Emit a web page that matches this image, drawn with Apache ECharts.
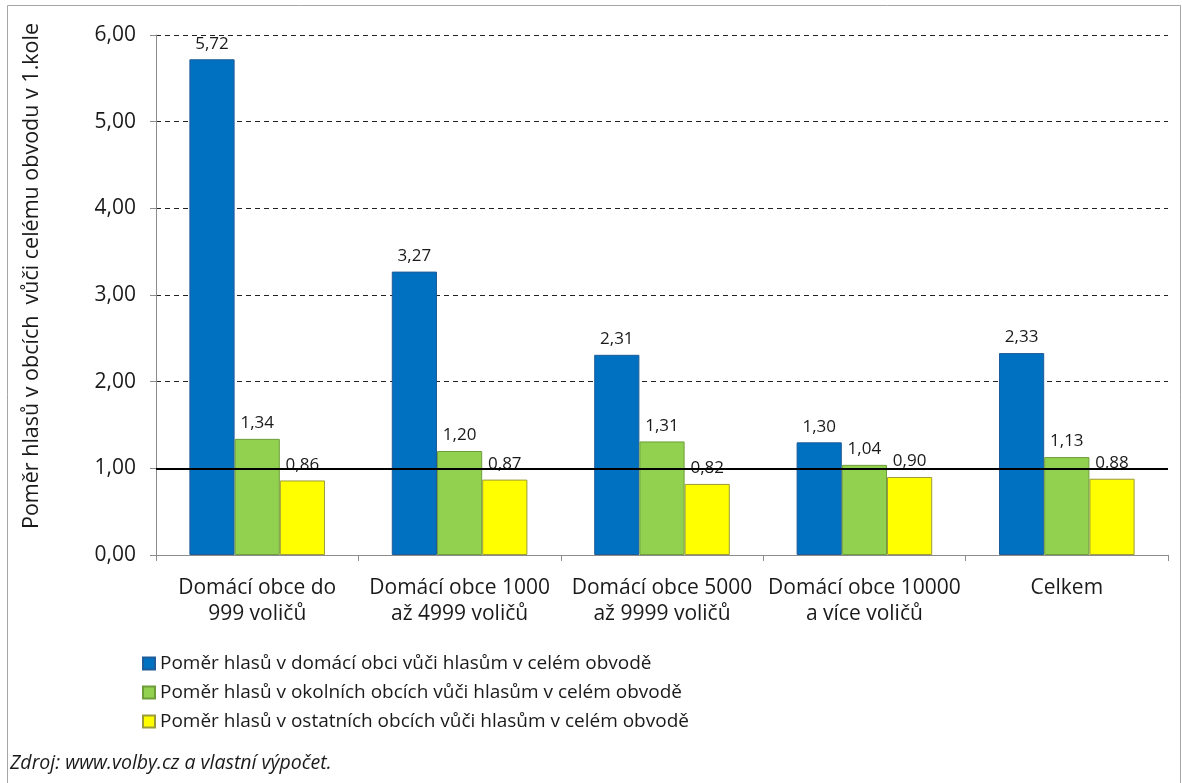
<!DOCTYPE html>
<html>
<head>
<meta charset="utf-8">
<script src="https://cdn.jsdelivr.net/npm/echarts@6/dist/echarts.min.js"></script>
<style>
  html, body { margin: 0; padding: 0; background: #fff; }
  #chart { width: 1182px; height: 783px; }
</style>
</head>
<body>
<div id="chart"></div>
<script>
const categories = [
  'Domácí obce do\n999 voličů',
  'Domácí obce 1000\naž 4999 voličů',
  'Domácí obce 5000\naž 9999 voličů',
  'Domácí obce 10000\na více voličů',
  'Celkem'
];
const seriesNames = [
  'Poměr hlasů v domácí obci vůči hlasům v celém obvodě',
  'Poměr hlasů v okolních obcích vůči hlasům v celém obvodě',
  'Poměr hlasů v ostatních obcích vůči hlasům v celém obvodě'
];
const domaci = [5.72, 3.27, 2.31, 1.30, 2.33];
const okolni = [1.34, 1.20, 1.31, 1.04, 1.13];
const ostatni = [0.86, 0.87, 0.82, 0.90, 0.88];
const referenceLine = 1;

const font = '"Open Sans", sans-serif';
const fmt = v => v.toFixed(2).replace('.', ',');

const chart = echarts.init(document.getElementById('chart'));

function bar(name, data, color, border) {
  return {
    name: name,
    type: 'bar',
    data: data,
    barGap: '0%',
    barCategoryGap: '33%',
    itemStyle: { color: color, borderColor: border, borderWidth: 1 },
    label: {
      show: true,
      position: 'top',
      distance: 7,
      formatter: p => fmt(p.value),
      fontFamily: font,
      fontSize: 17,
      color: '#1a1a1a'
    }
  };
}

const s1 = bar(seriesNames[0], domaci, '#0070C0', '#1F5C99');
s1.markLine = {
  silent: true,
  symbol: 'none',
  label: { show: false },
  lineStyle: { color: '#000', width: 2, type: 'solid' },
  data: [{ yAxis: referenceLine }]
};

chart.setOption({
  animation: false,
  backgroundColor: '#fff',
  graphic: [{
    type: 'rect',
    shape: { x: 7.5, y: 5.5, width: 1173, height: 800 },
    style: { fill: 'none', stroke: '#a6a6a6', lineWidth: 1 },
    z: -1
  }, {
    type: 'text',
    left: 10,
    top: 753,
    style: {
      text: 'Zdroj: www.volby.cz a vlastní výpočet.',
      font: 'italic 19.5px "Open Sans", sans-serif',
      fill: '#1a1a1a'
    }
  }],
  grid: { left: 156, right: 14, top: 35, bottom: 228 },
  legend: {
    orient: 'vertical',
    left: 137,
    top: 648,
    itemWidth: 12,
    itemHeight: 12,
    itemGap: 8,
    icon: 'rect',
    textStyle: { fontFamily: font, fontSize: 19, lineHeight: 21, color: '#1a1a1a' },
    data: seriesNames
  },
  xAxis: {
    type: 'category',
    data: categories,
    axisLine: { lineStyle: { color: '#8c8c8c' } },
    axisTick: { show: true, length: 6, lineStyle: { color: '#8c8c8c' } },
    axisLabel: {
      fontFamily: font,
      fontSize: 21,
      color: '#1a1a1a',
      margin: 20,
      lineHeight: 26,
      interval: 0
    }
  },
  yAxis: {
    type: 'value',
    min: 0,
    max: 6,
    interval: 1,
    name: 'Poměr hlasů v obcích  vůči celému obvodu v 1.kole',
    nameLocation: 'middle',
    nameGap: 113,
    nameTextStyle: { fontFamily: font, fontSize: 21.5, color: '#1a1a1a', padding: [0, 0, 0, 38] },
    axisLine: { show: true, lineStyle: { color: '#8c8c8c' } },
    axisTick: { show: true, length: 6, lineStyle: { color: '#8c8c8c' } },
    axisLabel: {
      fontFamily: font,
      fontSize: 21,
      color: '#1a1a1a',
      margin: 20,
      formatter: v => fmt(v)
    },
    splitLine: { lineStyle: { color: '#222', type: [5, 4], width: 1 } }
  },
  series: [
    s1,
    bar(seriesNames[1], okolni, '#92D050', '#6E9E3A'),
    bar(seriesNames[2], ostatni, '#FFFF00', '#9C9C3A')
  ]
});
</script>
</body>
</html>
